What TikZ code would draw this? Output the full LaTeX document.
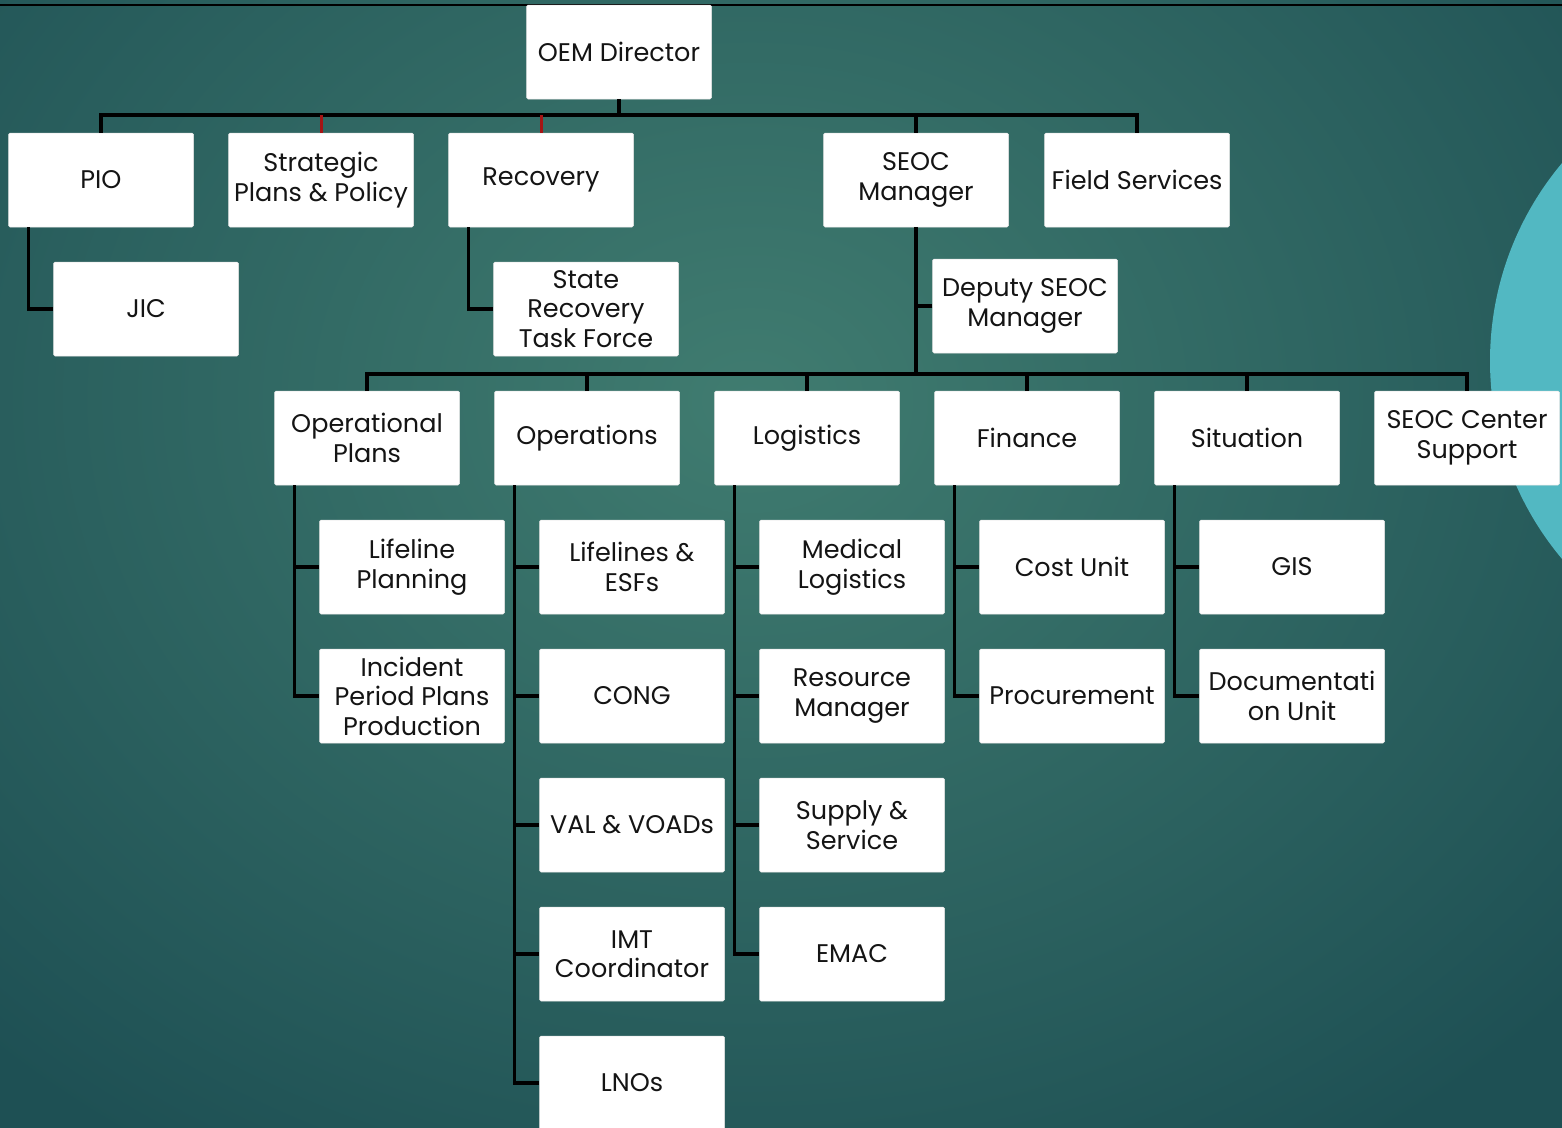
\documentclass[tikz,border=0pt]{standalone}
\usepackage{fontspec}
\setmainfont{Poppins}
\definecolor{bgin}{RGB}{64,124,112}
\definecolor{bgout}{RGB}{30,80,84}
\definecolor{circ}{RGB}{82,184,194}
\definecolor{stub}{RGB}{165,20,20}
\definecolor{txt}{RGB}{20,20,20}
\begin{document}
\begin{tikzpicture}[x=1pt,y=-1pt,
  box/.style={fill=white,draw=white!90!black,line width=0.5pt,rounded corners=1.5pt,
    minimum width=185pt,minimum height=94pt,inner sep=2pt,align=center,
    text=txt,font=\fontsize{25.5}{29.5}\selectfont},
  conn/.style={line width=3.5pt,black},
  redconn/.style={line width=3pt,stub}]
\useasboundingbox (0,0) rectangle (1562,1127);
\begin{scope}
\clip (0,0) rectangle (1562,1127);
\shade[inner color=bgin,outer color=bgout] (-350,-500) rectangle (1850,1300);
\fill[circ] (1798,361) circle[radius=308pt];
\end{scope}
\draw[line width=2pt,black] (0,4.5) -- (1562,4.5);
% level 0/1
\node[box] (oem) at (619,52) {OEM Director};
\node[box] (pio) at (101,180) {PIO};
\node[box] (strat) at (321,180) {Strategic\\Plans \& Policy};
\node[box] (recov) at (541,180) {Recovery};
\node[box] (seoc) at (916,180) {SEOC\\Manager};
\node[box] (field) at (1137,180) {Field Services};
\node[box] (jic) at (146,309) {JIC};
\node[box] (srtf) at (586,309) {State\\Recovery\\Task Force};
\node[box] (deputy) at (1025,306) {Deputy SEOC\\Manager};
% level 3
\node[box] (opplans) at (367,438) {Operational\\Plans};
\node[box] (ops) at (587,438) {Operations};
\node[box] (logi) at (807,438) {Logistics};
\node[box] (fin) at (1027,438) {Finance};
\node[box] (sit) at (1247,438) {Situation};
\node[box] (center) at (1467,438) {SEOC Center\\Support};
% children
\node[box] (lifeline) at (412,567) {Lifeline\\Planning};
\node[box] (incident) at (412,696) {Incident\\Period Plans\\Production};
\node[box] (lifelines) at (632,567) {Lifelines \&\\ESFs};
\node[box] (cong) at (632,696) {CONG};
\node[box] (val) at (632,825) {VAL \& VOADs};
\node[box] (imt) at (632,954) {IMT\\Coordinator};
\node[box] (lnos) at (632,1083) {LNOs};
\node[box] (medlog) at (852,567) {Medical\\Logistics};
\node[box] (resmgr) at (852,696) {Resource\\Manager};
\node[box] (supply) at (852,825) {Supply \&\\Service};
\node[box] (emac) at (852,954) {EMAC};
\node[box] (cost) at (1072,567) {Cost Unit};
\node[box] (proc) at (1072,696) {Procurement};
\node[box] (gis) at (1292,567) {GIS};
\node[box] (doc) at (1292,696) {Documentati\\on Unit};
% buses
\coordinate (bus1) at (619,115);
\coordinate (bus2) at (916,374);
\draw[conn] (oem.south) -- (bus1);
\draw[conn] (pio.north) |- (bus1) -| (field.north);
\draw[conn] (seoc.north) -- (seoc.north |- bus1);
\draw[redconn] (strat.north) -- (strat.north |- bus1);
\draw[redconn] (recov.north) -- (recov.north |- bus1);
\draw[conn] ([xshift=20pt]pio.south west) |- (jic.west);
\draw[conn] ([xshift=20pt]recov.south west) |- (srtf.west);
\draw[conn] (seoc.south) -- (bus2);
\draw[conn] (deputy.west) -- (deputy.west -| seoc.south);
\draw[conn] (opplans.north) |- (bus2) -| (center.north);
\foreach \n in {ops,logi,fin,sit} \draw[conn] (\n.north) -- (\n.north |- bus2);
% children connectors
\foreach \p/\c in {opplans/lifeline,opplans/incident,ops/lifelines,ops/cong,ops/val,ops/imt,ops/lnos,
  logi/medlog,logi/resmgr,logi/supply,logi/emac,fin/cost,fin/proc,sit/gis,sit/doc}
  \draw[conn] ([xshift=20pt]\p.south west) |- (\c.west);
\end{tikzpicture}
\end{document}
